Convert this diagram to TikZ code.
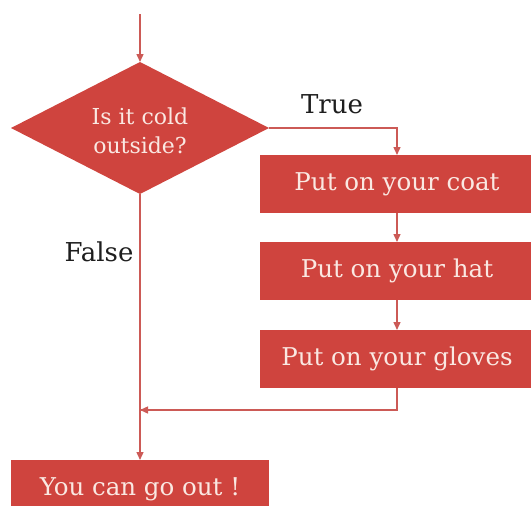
\documentclass[tikz,border=0pt]{standalone}
\usepackage{fontspec}
\setmainfont{DejaVu Serif}
\usetikzlibrary{shapes.geometric,arrows.meta}
\definecolor{boxred}{RGB}{207,68,62}
\definecolor{linered}{RGB}{204,90,86}
\definecolor{boxtext}{RGB}{250,232,226}
\definecolor{labeltext}{RGB}{30,30,30}
\tikzset{
  boxnode/.style={rectangle, fill=boxred, draw=none, minimum width=274pt, minimum height=58pt, inner sep=0pt, outer sep=0pt, text=boxtext, font=\fontsize{24.5}{28}\selectfont},
  decision/.style={diamond, fill=boxred, draw=none, minimum width=258pt, minimum height=132pt, inner sep=0pt, outer sep=0pt},
  dtext/.style={text=boxtext, align=center, font=\fontsize{22}{29}\selectfont},
  flow/.style={draw=linered, line width=1.4pt, -{Triangle[width=7pt,length=8pt]}},
  plainflow/.style={draw=linered, line width=1.4pt},
  lbl/.style={text=labeltext, font=\fontsize{26}{30}\selectfont}
}
\begin{document}
\begin{tikzpicture}[x=1pt,y=-1pt]
\useasboundingbox (0,0) rectangle (531,506);
\clip (0,0) rectangle (531,506);
\coordinate (start) at (140,14);
\node[decision] (q) at (140,128) {};
\node[dtext] (qt) at (140,131) {Is it cold\\outside?};
\node[boxnode] (coat) at (397,184) {Put on your coat};
\node[boxnode] (hat) at (397,271) {Put on your hat};
\node[boxnode] (gloves) at (397,359) {Put on your gloves};
\node[boxnode, minimum width=258pt] (out) at (140,489) {You can go out !};
\coordinate (join) at (140,410);
\draw[flow] (start) -- (q.north);
\draw[flow] (q.east) -| (coat.north);
\draw[flow] (coat.south) -- (hat.north);
\draw[flow] (hat.south) -- (gloves.north);
\draw[plainflow] (gloves.south) |- (join);
\draw[flow] (gloves.south |- join) -- (join);
\draw[flow] (q.south) -- (out.north);
\node[lbl] (tlabel) at (332,104) {True};
\node[lbl] (flabel) at (99,252) {False};
\end{tikzpicture}
\end{document}
